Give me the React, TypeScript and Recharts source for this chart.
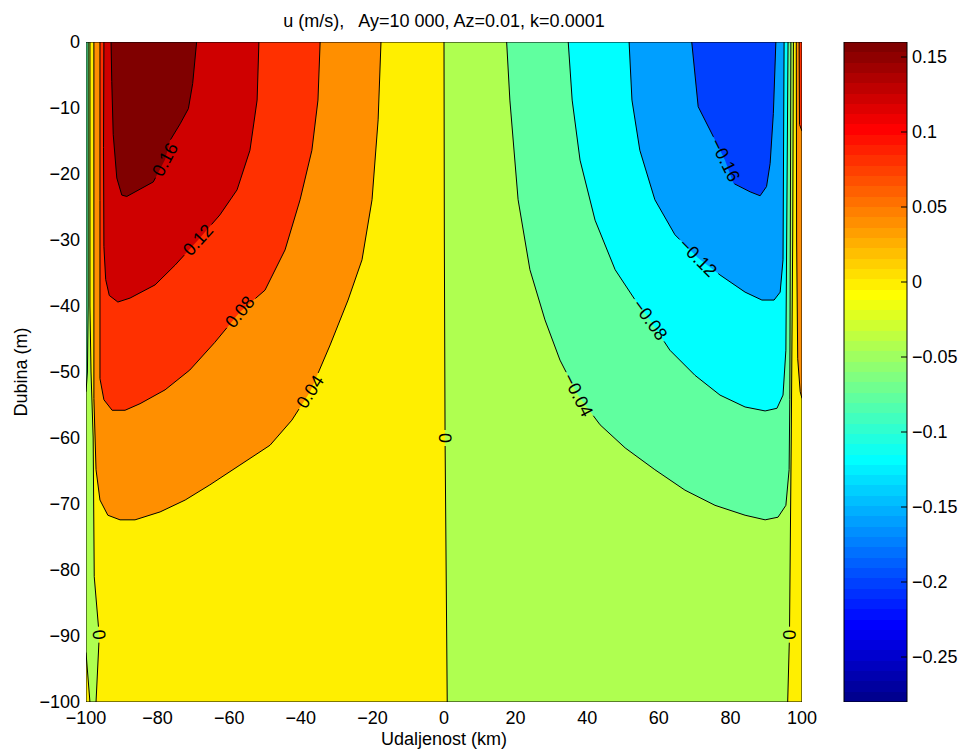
import { Area, Bar, BarChart, ComposedChart, Label, Line, Scatter, XAxis, YAxis } from "recharts";

type Pt = [number, number]; // [udaljenost (km), dubina (m)]

const xTicks = [-100, -80, -60, -40, -20, 0, 20, 40, 60, 80, 100];
const depthTicks = [-100, -90, -80, -70, -60, -50, -40, -30, -20, -10, 0];
const colorTicks = [-0.25, -0.2, -0.15, -0.1, -0.05, 0, 0.05, 0.1, 0.15];
const colorRange: Pt = [-0.28, 0.16];

// contour lines
const c016: Pt[] = [
  [-93.0, 0], [-92.8, -6], [-92.4, -14], [-91.4, -20.6], [-90.0, -23.2], [-88.6, -23.4],
  [-84.9, -22.3], [-81.2, -21.2], [-77.9, -17.8], [-76.5, -14.9], [-73.7, -12.4],
  [-71.4, -10.1], [-70.2, -6.3], [-69.1, 0],
];
const c012: Pt[] = [
  [-95.0, 0], [-95.1, -16], [-95.0, -31], [-94.5, -36], [-93.5, -38.4], [-91.1, -39.4],
  [-87.7, -38.8], [-80.7, -36.8], [-75.1, -33.8], [-68.7, -30.0], [-62.6, -26.2],
  [-57.8, -22.4], [-54.2, -16.4], [-52.2, -8.8], [-51.7, 0],
];
const c008: Pt[] = [
  [-96.1, 0], [-96.1, -24], [-96.1, -51], [-95.0, -54.2], [-92.7, -55.8], [-89.1, -55.8],
  [-84.9, -54.8], [-77.9, -52.7], [-71.0, -49.7], [-64.0, -45.5], [-57.0, -40.9],
  [-50.0, -37.6], [-44.4, -31.5], [-40.2, -23.9], [-36.9, -16.4], [-35.2, -8.8], [-34.6, 0],
];
const c004: Pt[] = [
  [-97.8, 0], [-97.8, -54], [-97.2, -64.8], [-96.1, -69.4], [-93.9, -71.7], [-90.5, -72.4],
  [-86.3, -72.4], [-79.3, -71.2], [-72.3, -69.4], [-65.4, -67.1], [-57.0, -64.1],
  [-48.6, -61.1], [-42.5, -57.3], [-37.4, -53.0], [-31.8, -45.9], [-26.8, -39.1],
  [-22.9, -33.0], [-20.1, -23.9], [-18.4, -11.8], [-17.6, 0],
];
const c0Center: Pt[] = [[0, 0], [0.1, -30], [0.3, -60], [0.6, -80], [0.9, -100]];
const c0LeftWall: Pt[] = [
  [-98.9, 0], [-98.9, -40], [-98.6, -50], [-98.0, -60], [-97.7, -81], [-96.3, -90], [-97.2, -100],
];
const c0LeftCorner: Pt[] = [[-100, -92.5], [-98.9, -100]];
const cm004LeftWall: Pt[] = [[-99.4, 0], [-99.4, -40], [-99.6, -50], [-100, -53]];

const cm004: Pt[] = [
  [17.5, 0], [18.4, -8.8], [20.7, -23.9], [24.0, -34.5], [28.2, -42.1], [32.4, -48.2],
  [37.4, -53.5], [43.6, -58.0], [50.6, -61.5], [58.9, -64.8], [67.3, -67.9], [75.7, -70.2],
  [84.1, -71.7], [89.7, -72.4], [93.3, -72.0], [95.5, -70.2], [96.4, -64.8], [96.6, -54.2],
  [96.9, 0],
];
const cm008: Pt[] = [
  [34.7, 0], [35.8, -8.8], [38.0, -17.9], [42.2, -27.0], [47.8, -34.5], [53.4, -39.1],
  [57.5, -42.1], [63.1, -46.7], [70.1, -50.5], [77.1, -53.5], [84.1, -55.3], [89.7, -55.9],
  [93.0, -55.5], [94.7, -53.5], [95.5, -46.7], [96.1, 0],
];
const cm012: Pt[] = [
  [51.7, 0], [52.5, -8.8], [54.7, -16.4], [58.9, -23.9], [64.5, -29.2], [70.9, -32.7],
  [77.1, -35.3], [84.1, -37.9], [88.8, -39.1], [92.2, -39.1], [93.9, -37.9], [94.7, -33.0],
  [95.0, 0],
];
const cm016: Pt[] = [
  [69.2, 0], [71.0, -9.8], [75.2, -14.3], [78.5, -17.9], [80.8, -21.4], [85.5, -22.7],
  [88.3, -23.3], [90.1, -21.9], [91.1, -18.4], [92.0, -10.8], [92.7, 0],
];
const c0RightWall: Pt[] = [[97.6, 0], [97.4, -30], [97.0, -60], [96.5, -90], [96.0, -100]];
const c004RightWall: Pt[] = [[98.4, 0], [98.5, -30], [98.8, -48], [99.5, -53], [100, -54]];
const c008RightWall: Pt[] = [[99.2, 0], [99.3, -12.5], [100, -13.5]];

const plotBox: Pt[] = [[-100, 0], [100, 0], [100, -100], [-100, -100]];

const contourLabels = [
  { text: "0.16", x: -77.9, depth: -17.8, line: c016 },
  { text: "0.12", x: -68.7, depth: -30.0, line: c012 },
  { text: "0.08", x: -57.0, depth: -40.9, line: c008 },
  { text: "0.04", x: -37.4, depth: -53.0, line: c004 },
  { text: "0", x: 0.25, depth: -60, line: c0Center },
  { text: "-0.04", x: 37.4, depth: -53.5, line: cm004 },
  { text: "-0.08", x: 57.5, depth: -42.1, line: cm008 },
  { text: "-0.12", x: 70.9, depth: -32.7, line: cm012 },
  { text: "-0.16", x: 78.5, depth: -17.9, line: cm016 },
  { text: "0", x: -96.4, depth: -89.8, line: c0LeftWall },
  { text: "0", x: 96.5, depth: -89.8, line: c0RightWall },
];

const contourLines = [
  c016, c012, c008, c004, c0Center, c0LeftWall, c0LeftCorner, cm004LeftWall,
  cm004, cm008, cm012, cm016, c0RightWall, c004RightWall, c008RightWall,
];

const FONT = '"Liberation Sans", Arial, Helvetica, sans-serif';
const PLOT_W = 716;
const PLOT_H = 660;
const SX = PLOT_W / 200;
const SY = PLOT_H / 100;
const LABEL_SIZE = 18;

const fmt = (v: number) => (v < 0 ? "\u2212" + String(-v) : String(v));

// MATLAB jet(64)
function jet(k: number) {
  const r = k <= 24 ? 0 : k <= 40 ? (k - 24) / 16 : k <= 56 ? 1 : 1 - (k - 56) / 16;
  const g = k <= 8 ? 0 : k <= 24 ? (k - 8) / 16 : k <= 40 ? 1 : k <= 56 ? (56 - k) / 16 : 0;
  const b = k <= 8 ? (k + 8) / 16 : k <= 24 ? 1 : k <= 40 ? (40 - k) / 16 : 0;
  const c = (v: number) => Math.round(v * 255);
  return `rgb(${c(r)},${c(g)},${c(b)})`;
}

function levelColor(level: number) {
  const t = (level - colorRange[0]) / (colorRange[1] - colorRange[0]);
  const k = Math.min(64, Math.max(1, Math.floor(t * 64 + 1e-9) + 1));
  return jet(k);
}

const toRows = (pts: Pt[]) => pts.map(([x, depth]) => ({ x, depth: depth as number | null }));
const closed = (...parts: Pt[][]) => {
  const pts = parts.flat();
  return toRows([...pts, pts[0]]);
};

// painted back to front; level = lower bound of the filled interval
const regions = [
  { id: "bg", level: -0.04, pts: closed(plotBox) },
  { id: "p0", level: 0, pts: closed(c0LeftWall, [...c0Center].reverse()) },
  { id: "p4", level: 0.04, pts: closed(c004) },
  { id: "p8", level: 0.08, pts: closed(c008) },
  { id: "p12", level: 0.12, pts: closed(c012) },
  { id: "p16", level: 0.16, pts: closed(c016) },
  { id: "m4", level: -0.08, pts: closed(cm004) },
  { id: "m8", level: -0.12, pts: closed(cm008) },
  { id: "m12", level: -0.16, pts: closed(cm012) },
  { id: "m16", level: -0.2, pts: closed(cm016) },
  { id: "rw0", level: 0, pts: closed(c0RightWall, [[100, -100], [100, 0]]) },
  { id: "rw4", level: 0.04, pts: closed(c004RightWall, [[100, 0]]) },
  { id: "rw8", level: 0.08, pts: closed(c008RightWall, [[100, 0]]) },
  { id: "lwm4", level: -0.08, pts: closed(cm004LeftWall, [[-100, 0]]) },
  { id: "lc0", level: 0, pts: closed(c0LeftCorner, [[-100, -100]]) },
];

// nearest point on a polyline, in screen proportions
function project(line: Pt[], x: number, d: number) {
  let best = { i: 0, t: 0, dist: Infinity };
  for (let i = 0; i < line.length - 1; i++) {
    const ax = line[i][0] * SX, ay = line[i][1] * SY;
    const bx = line[i + 1][0] * SX, by = line[i + 1][1] * SY;
    const px = x * SX, py = d * SY;
    const L2 = (bx - ax) ** 2 + (by - ay) ** 2 || 1;
    const t = Math.max(0, Math.min(1, ((px - ax) * (bx - ax) + (py - ay) * (by - ay)) / L2));
    const dist = (ax + t * (bx - ax) - px) ** 2 + (ay + t * (by - ay) - py) ** 2;
    if (dist < best.dist) best = { i, t, dist };
  }
  return best;
}

function cumLengths(line: Pt[]) {
  const cum = [0];
  for (let i = 0; i < line.length - 1; i++) {
    cum.push(cum[i] + Math.hypot((line[i + 1][0] - line[i][0]) * SX, (line[i + 1][1] - line[i][1]) * SY));
  }
  return cum;
}

function labelAngle(line: Pt[], x: number, d: number) {
  const { i } = project(line, x, d);
  const [x0, d0] = line[i];
  const [x1, d1] = line[i + 1];
  let a = (Math.atan2(-(d1 - d0) * SY, (x1 - x0) * SX) * 180) / Math.PI;
  if (a > 90) a -= 180;
  if (a <= -90) a += 180;
  return a;
}

const textWidth = (s: string) =>
  [...s].reduce((w, ch) => w + (ch === "." ? 0.278 : ch === "-" ? 0.584 : 0.556), 0) * LABEL_SIZE;

// contour polyline with a gap cut where its label sits
function lineWithGaps(line: Pt[]) {
  const cum = cumLengths(line);
  const pointAt = (s: number): Pt => {
    let i = 0;
    while (i < line.length - 2 && cum[i + 1] < s) i++;
    const seg = cum[i + 1] - cum[i] || 1;
    const t = Math.max(0, Math.min(1, (s - cum[i]) / seg));
    return [line[i][0] + t * (line[i + 1][0] - line[i][0]), line[i][1] + t * (line[i + 1][1] - line[i][1])];
  };
  const gaps = contourLabels
    .filter((l) => l.line === line)
    .map((l) => {
      const p = project(line, l.x, l.depth);
      const s0 = cum[p.i] + p.t * (cum[p.i + 1] - cum[p.i]);
      const h = textWidth(l.text) / 2 + 3;
      return [Math.max(0, s0 - h), Math.min(cum[cum.length - 1], s0 + h)];
    });
  type Ev = { s: number; p: Pt; kind: "v" | "start" | "end" };
  const events: Ev[] = [
    ...line.map((p, i) => ({ s: cum[i], p, kind: "v" as const })),
    ...gaps.flatMap(([a, b]) => [
      { s: a, p: pointAt(a), kind: "start" as const },
      { s: b, p: pointAt(b), kind: "end" as const },
    ]),
  ].sort((a, b) => a.s - b.s);
  const rows: { x: number; depth: number | null }[] = [];
  let inGap = false;
  for (const e of events) {
    if (e.kind === "start") {
      rows.push({ x: e.p[0], depth: e.p[1] });
      rows.push({ x: e.p[0], depth: null });
      inGap = true;
    } else if (e.kind === "end") {
      rows.push({ x: e.p[0], depth: e.p[1] });
      inGap = false;
    } else if (!inGap) {
      rows.push({ x: e.p[0], depth: e.p[1] });
    }
  }
  return rows;
}

const labelData = contourLabels.map((l) => ({
  x: l.x,
  depth: l.depth,
  text: l.text.replace("-", "\u2212"),
  angle: labelAngle(l.line, l.x, l.depth),
}));

function ContourLabel(props: any) {
  const { cx, cy, payload } = props;
  return (
    <text
      x={cx}
      y={cy}
      transform={`rotate(${payload.angle} ${cx} ${cy})`}
      textAnchor="middle"
      dominantBaseline="central"
      fontSize={LABEL_SIZE}
      fontFamily={FONT}
      fill="#000"
    >
      {payload.text}
    </text>
  );
}

const colorbarData = [{ name: "u", span: colorRange }];
const jetStops = Array.from({ length: 64 }, (_, i) => i + 1);

const tickStyle = { fontSize: 18, fill: "#000", fontFamily: FONT };

export default function App() {
  return (
    <div style={{ position: "absolute", left: 0, top: 0, width: 962, height: 751, background: "#fff" }}>
      <div
        style={{
          position: "absolute",
          left: 86,
          top: 11,
          width: PLOT_W,
          textAlign: "center",
          fontFamily: FONT,
          fontSize: 18,
          lineHeight: "20px",
          whiteSpace: "pre",
          color: "#000",
        }}
      >
        u (m/s),   Ay=10 000, Az=0.01, k=0.0001
      </div>
      <div style={{ position: "absolute", left: 0, top: 0 }}>
        <ComposedChart width={830} height={751} margin={{ top: 42, right: 28, bottom: 0, left: 0 }}>
          <XAxis
            dataKey="x"
            type="number"
            domain={[-100, 100]}
            ticks={xTicks}
            allowDataOverflow
            height={49}
            tickLine={false}
            axisLine={false}
            tickMargin={3}
            tick={tickStyle}
            tickFormatter={fmt}
          >
            <Label value="Udaljenost (km)" position="insideBottom" offset={6} fontSize={18} fontFamily={FONT} fill="#000" />
          </XAxis>
          <YAxis
            type="number"
            domain={[-100, 0]}
            ticks={depthTicks}
            allowDataOverflow
            width={86}
            tickLine={false}
            axisLine={false}
            tickMargin={0}
            tick={tickStyle}
            tickFormatter={fmt}
          >
            <Label
              content={(p: any) => {
                const vb = p.viewBox || { x: 0, y: 42, width: 86, height: PLOT_H };
                const cx = vb.x + 27;
                const cy = vb.y + vb.height / 2;
                return (
                  <text
                    x={cx}
                    y={cy}
                    transform={`rotate(-90 ${cx} ${cy})`}
                    textAnchor="middle"
                    fontSize={18}
                    fontFamily={FONT}
                    fill="#000"
                  >
                    Dubina (m)
                  </text>
                );
              }}
            />
          </YAxis>
          {regions.map((r) => (
            <Area
              key={r.id}
              data={r.pts}
              dataKey="depth"
              type="linear"
              baseValue={0}
              fill={levelColor(r.level)}
              fillOpacity={1}
              stroke="none"
              dot={false}
              activeDot={false}
              isAnimationActive={false}
            />
          ))}
          {contourLines.map((line, i) => (
            <Line
              key={`c${i}`}
              data={lineWithGaps(line)}
              dataKey="depth"
              type="linear"
              stroke="#000"
              strokeWidth={1}
              dot={false}
              activeDot={false}
              isAnimationActive={false}
            />
          ))}
          <Line
            data={closed(plotBox)}
            dataKey="depth"
            type="linear"
            stroke="#000"
            strokeWidth={1}
            dot={false}
            activeDot={false}
            isAnimationActive={false}
          />
          <Scatter data={labelData} dataKey="depth" shape={ContourLabel} isAnimationActive={false} />
        </ComposedChart>
      </div>
      <div style={{ position: "absolute", left: 830, top: 0 }}>
        <BarChart
          width={132}
          height={751}
          data={colorbarData}
          margin={{ top: 42, right: 0, bottom: 49, left: 13 }}
          barCategoryGap={0}
        >
          <defs>
            <linearGradient id="jetBar" x1="0" y1="1" x2="0" y2="0">
              {jetStops.flatMap((k) => [
                <stop key={`a${k}`} offset={(k - 1) / 64} stopColor={jet(k)} />,
                <stop key={`b${k}`} offset={k / 64} stopColor={jet(k)} />,
              ])}
            </linearGradient>
          </defs>
          <XAxis dataKey="name" hide />
          <YAxis
            yAxisId="l"
            orientation="left"
            type="number"
            width={1}
            domain={colorRange}
            ticks={colorTicks}
            allowDataOverflow
            tick={false}
            tickSize={-6}
            axisLine={false}
            tickLine={{ stroke: "#000" }}
          />
          <YAxis
            yAxisId="r"
            orientation="right"
            type="number"
            width={55}
            domain={colorRange}
            ticks={colorTicks}
            allowDataOverflow
            tickSize={-6}
            tickMargin={11}
            axisLine={false}
            tickLine={{ stroke: "#000" }}
            tick={tickStyle}
            tickFormatter={fmt}
          />
          <Bar yAxisId="r" dataKey="span" fill="url(#jetBar)" stroke="#000" strokeWidth={1} isAnimationActive={false} />
        </BarChart>
      </div>
    </div>
  );
}
